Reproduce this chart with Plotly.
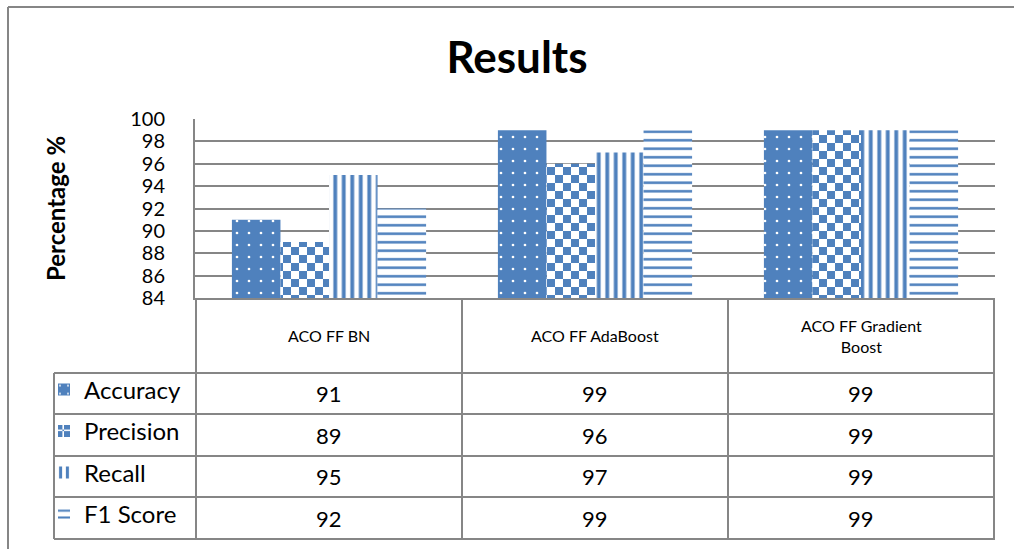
import plotly.graph_objects as go

# ---- data ----
models = ["ACO FF BN", "ACO FF AdaBoost", "ACO FF Gradient Boost"]
model_labels = ["ACO FF BN", "ACO FF AdaBoost", "ACO FF Gradient<br>Boost"]
metrics = ["Accuracy", "Precision", "Recall", "F1 Score"]
accuracy = [91, 99, 99]
precision = [89, 96, 99]
recall = [95, 97, 99]
f1_score = [92, 99, 99]
series = [accuracy, precision, recall, f1_score]
y_ticks = [84, 86, 88, 90, 92, 94, 96, 98, 100]

BLUE = "#4F81BD"
GRID = "#868686"
FONT = "Lato, 'Open Sans', sans-serif"

W, H = 1014, 549
L, R, T, B = 195, 19, 119, 251
PW, PH = W - L - R, H - T - B


def xp(px):
    return (px - L) / PW


def yp(py):
    return (H - B - py) / PH


try:
    checker = go.bar.marker.Pattern(
        path="M0,0H8V8H0ZM8,8H16V16H8Z", size=16,
        fgcolor=BLUE, bgcolor="white", fillmode="replace")
except ValueError:
    checker = go.bar.marker.Pattern(
        shape="x", size=12, solidity=0.45,
        fgcolor=BLUE, bgcolor="white", fillmode="replace")

patterns = [
    go.bar.marker.Pattern(shape=".", size=12, solidity=0.04,
                          fgcolor="white", bgcolor=BLUE, fillmode="replace"),
    checker,
    go.bar.marker.Pattern(shape="|", size=8.5, solidity=0.45,
                          fgcolor=BLUE, bgcolor="white", fillmode="replace"),
    go.bar.marker.Pattern(shape="-", size=8.5, solidity=0.3,
                          fgcolor=BLUE, bgcolor="white", fillmode="replace"),
]

fig = go.Figure()
for name, vals, pat in zip(metrics, series, patterns):
    fig.add_trace(go.Bar(
        x=models, y=vals, name=name, legendgroup=name,
        marker=dict(color=BLUE, line=dict(width=0), pattern=pat),
        hoverinfo="skip",
    ))

shapes = []
line = dict(color=GRID, width=2)
# outer chart frame (left and top)
shapes.append(dict(type="line", xref="paper", yref="paper",
                   x0=xp(8), x1=xp(8), y0=yp(7), y1=yp(H + 2), line=line))
shapes.append(dict(type="line", xref="paper", yref="paper",
                   x0=xp(8), x1=xp(W + 2), y0=yp(7), y1=yp(7), line=line))

# data table grid
row_edges = [373, 414, 456, 497, 539]
for py in row_edges:
    shapes.append(dict(type="line", xref="paper", yref="paper",
                       x0=xp(54), x1=1, y0=yp(py), y1=yp(py), line=line))
for xb in [-0.5, 0.5, 1.5, 2.5]:
    shapes.append(dict(type="line", xref="x", yref="paper",
                       x0=xb, x1=xb, y0=0, y1=yp(539), line=line))
shapes.append(dict(type="line", xref="paper", yref="paper",
                   x0=xp(54), x1=xp(54), y0=yp(373), y1=yp(539), line=line))

annotations = []
for i, lab in enumerate(model_labels):
    annotations.append(dict(x=i, xref="x", y=yp(335.5), yref="paper",
                            xanchor="center", yanchor="middle",
                            text=lab, showarrow=False,
                            font=dict(family=FONT, size=16, color="black")))
row_centers = [(row_edges[k] + row_edges[k + 1]) / 2 for k in range(4)]
for vals, yc in zip(series, row_centers):
    for i, v in enumerate(vals):
        annotations.append(dict(x=i, xref="x", y=yp(yc), yref="paper",
                                xanchor="center", yanchor="middle",
                                text=str(v), showarrow=False,
                                font=dict(family=FONT, size=22, color="black")))

fig.update_layout(
    width=W, height=H,
    margin=dict(l=L, r=R, t=T, b=B, pad=0),
    paper_bgcolor="white", plot_bgcolor="white",
    barmode="group", bargap=0.27, bargroupgap=0,
    title=dict(text="<b>Results</b>", x=517 / W, xref="container",
               xanchor="center", y=1 - 58 / H, yref="container",
               yanchor="middle",
               font=dict(family=FONT, size=44, color="black")),
    font=dict(family=FONT, color="black"),
    xaxis=dict(showticklabels=False, showgrid=False, ticks="",
               showline=True, linecolor=GRID, linewidth=2),
    yaxis=dict(range=[84, 100], tickvals=y_ticks, ticks="",
               tickfont=dict(family=FONT, size=20, color="black"),
               ticklabelstandoff=24,
               showgrid=True, gridcolor=GRID, gridwidth=2,
               showline=True, linecolor=GRID, linewidth=2,
               zeroline=False,
               title=dict(text="<b>Percentage %</b>", standoff=58,
                          font=dict(family=FONT, size=24, color="black"))),
    showlegend=True,
    legend=dict(x=xp(44), xanchor="left", y=yp(536.5), yanchor="bottom",
                traceorder="grouped", tracegroupgap=7.3,
                font=dict(family=FONT, size=24, color="black"),
                bgcolor="rgba(0,0,0,0)", itemclick=False, itemdoubleclick=False),
    shapes=shapes,
    annotations=annotations,
)

fig.write_html("out.html")
